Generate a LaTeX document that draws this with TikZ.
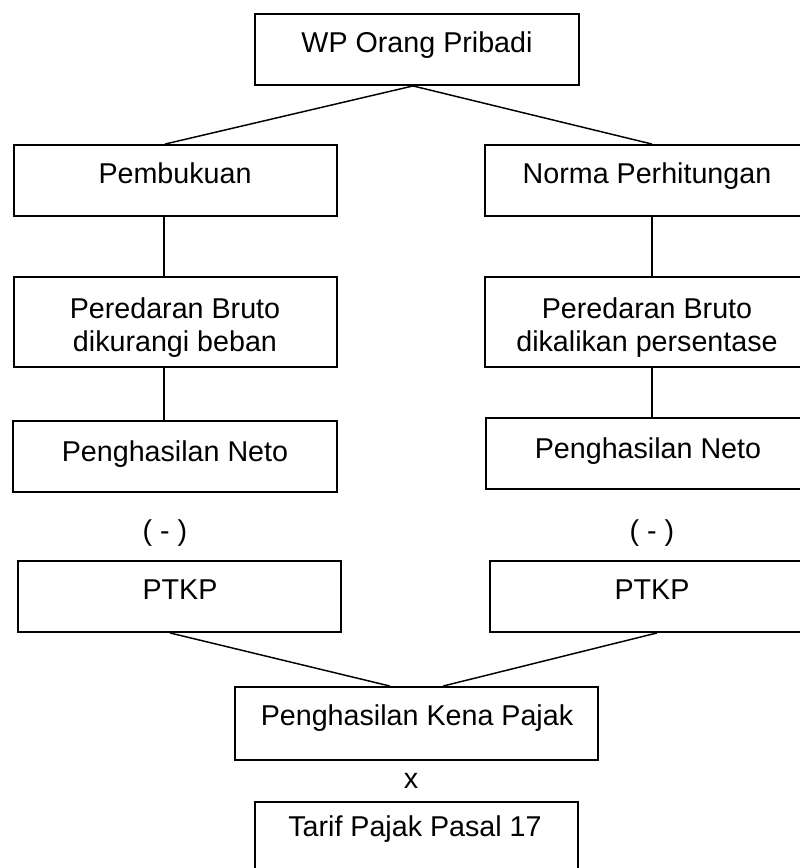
\documentclass[tikz,border=0pt]{standalone}
\usepackage{fontspec}
\setmainfont{Liberation Sans}
\usetikzlibrary{fit,calc}
\begin{document}
\begin{tikzpicture}[x=0.75pt,y=-0.75pt,
  boxnode/.style={draw=black,line width=1.4pt,rectangle,inner sep=0pt},
  txt/.style={anchor=base,inner sep=0pt,font=\fontsize{21.5pt}{25pt}\selectfont},
  conn/.style={draw=black,line width=1.1pt}]
\useasboundingbox (0,0) rectangle (800,868);
\clip (0,0) rectangle (800,868);
\fill[white] (0,0) rectangle (800,868);
% boxes
\node[boxnode,fit={(255,14)(579,85)}] (wp) {};
\node[boxnode,fit={(14,145)(337,216)}] (pemb) {};
\node[boxnode,fit={(485,145)(815,216)}] (norma) {};
\node[boxnode,fit={(14,277)(337,367)}] (peredL) {};
\node[boxnode,fit={(485,277)(815,367)}] (peredR) {};
\node[boxnode,fit={(13,421)(337,492)}] (netoL) {};
\node[boxnode,fit={(486,418)(815,489)}] (netoR) {};
\node[boxnode,fit={(18,561)(341,632)}] (ptkpL) {};
\node[boxnode,fit={(490,561)(815,632)}] (ptkpR) {};
\node[boxnode,fit={(235,687)(598,760)}] (pkp) {};
\node[boxnode,fit={(255,802)(578,890)}] (tarif) {};
% texts
\node[txt] (wpT) at (417,52) {WP Orang Pribadi};
\node[txt] (pembT) at (175,183) {Pembukuan};
\node[txt] (normaT) at (647,183) {Norma Perhitungan};
\node[txt] (peredLa) at (175,318) {Peredaran Bruto};
\node[txt] (peredLb) at (175,351) {dikurangi beban};
\node[txt] (peredRa) at (647,318) {Peredaran Bruto};
\node[txt] (peredRb) at (647,351) {dikalikan persentase};
\node[txt] (netoLT) at (175,461) {Penghasilan Neto};
\node[txt] (netoRT) at (648,458) {Penghasilan Neto};
\node[txt] (minL) at (165,540) {( - )};
\node[txt] (minR) at (652,540) {( - )};
\node[txt] (ptkpLT) at (180,599) {PTKP};
\node[txt] (ptkpRT) at (652,599) {PTKP};
\node[txt] (pkpT) at (417,725) {Penghasilan Kena Pajak};
\node[txt] (xT) at (411,788) {x};
\node[txt] (tarifT) at (415,836) {Tarif Pajak Pasal 17};
% connector reference coordinates
\coordinate (lx) at (164,0);
\coordinate (rx) at (652,0);
\coordinate (topx) at (413,0);
\coordinate (pl) at (170,0);
\coordinate (pr) at (657,0);
\coordinate (kl) at (390,0);
\coordinate (kr) at (443,0);
% connectors
\draw[conn] (wp.south -| topx) -- (pemb.north -| 165,0);
\draw[conn] (wp.south -| topx) -- (norma.north -| rx);
\draw[conn] (pemb.south -| lx) -- (peredL.north -| lx);
\draw[conn] (peredL.south -| lx) -- (netoL.north -| lx);
\draw[conn] (norma.south -| rx) -- (peredR.north -| rx);
\draw[conn] (peredR.south -| rx) -- (netoR.north -| rx);
\draw[conn] (ptkpL.south -| pl) -- (pkp.north -| kl);
\draw[conn] (ptkpR.south -| pr) -- (pkp.north -| kr);
\end{tikzpicture}
\end{document}
